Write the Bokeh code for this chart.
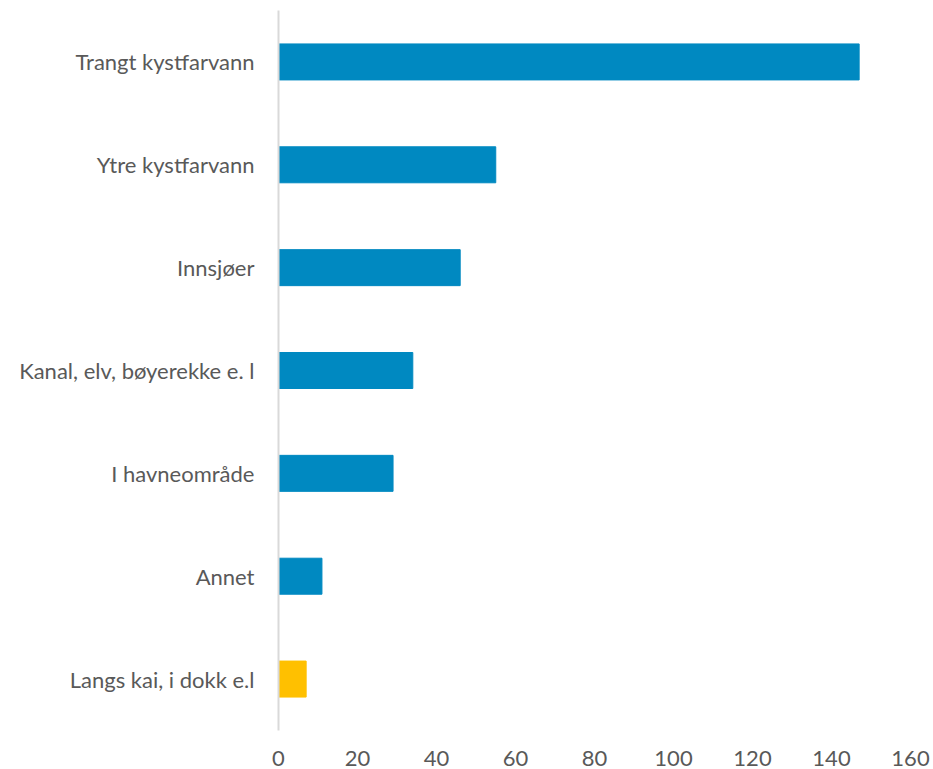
from bokeh.plotting import figure
from bokeh.models import ColumnDataSource, FixedTicker
from bokeh.embed import file_html
from bokeh.resources import INLINE

categories = ["Trangt kystfarvann", "Ytre kystfarvann", "Innsjøer",
              "Kanal, elv, bøyerekke e. l", "I havneområde", "Annet",
              "Langs kai, i dokk e.l"]
values = [147, 55, 46, 34, 29, 11, 7]
colors = ["#0089C1", "#0089C1", "#0089C1", "#0089C1", "#0089C1", "#0089C1", "#FFC000"]
x_ticks = [0, 20, 40, 60, 80, 100, 120, 140, 160]

src = ColumnDataSource(dict(cat=categories, val=values, col=colors))

p = figure(y_range=list(reversed(categories)), x_range=(0, 160),
           width=933, height=769, output_backend="svg", toolbar_location=None,
           min_border_left=278, min_border_right=23, min_border_top=10, min_border_bottom=39)
p.hbar(y="cat", right="val", left=0, height=0.35, color="col", source=src)

p.outline_line_color = None
p.xgrid.grid_line_color = None
p.ygrid.grid_line_color = None
p.background_fill_color = "white"
p.border_fill_color = "white"

font = "Lato"
p.xaxis.ticker = FixedTicker(ticks=x_ticks)
p.xaxis.axis_line_color = None
p.xaxis.major_tick_line_color = None
p.xaxis.minor_tick_line_color = None
p.xaxis.major_label_text_font = font
p.xaxis.major_label_text_font_size = "22px"
p.xaxis.major_label_text_color = "#595959"
p.xaxis.major_label_standoff = 14

p.yaxis.axis_line_color = "#D9D9D9"
p.yaxis.axis_line_width = 2
p.yaxis.major_tick_line_color = None
p.yaxis.minor_tick_line_color = None
p.yaxis.major_label_text_font = font
p.yaxis.major_label_text_font_size = "22px"
p.yaxis.major_label_text_color = "#595959"
p.yaxis.major_label_standoff = 18

open("out.html", "w").write(file_html(p, INLINE))
